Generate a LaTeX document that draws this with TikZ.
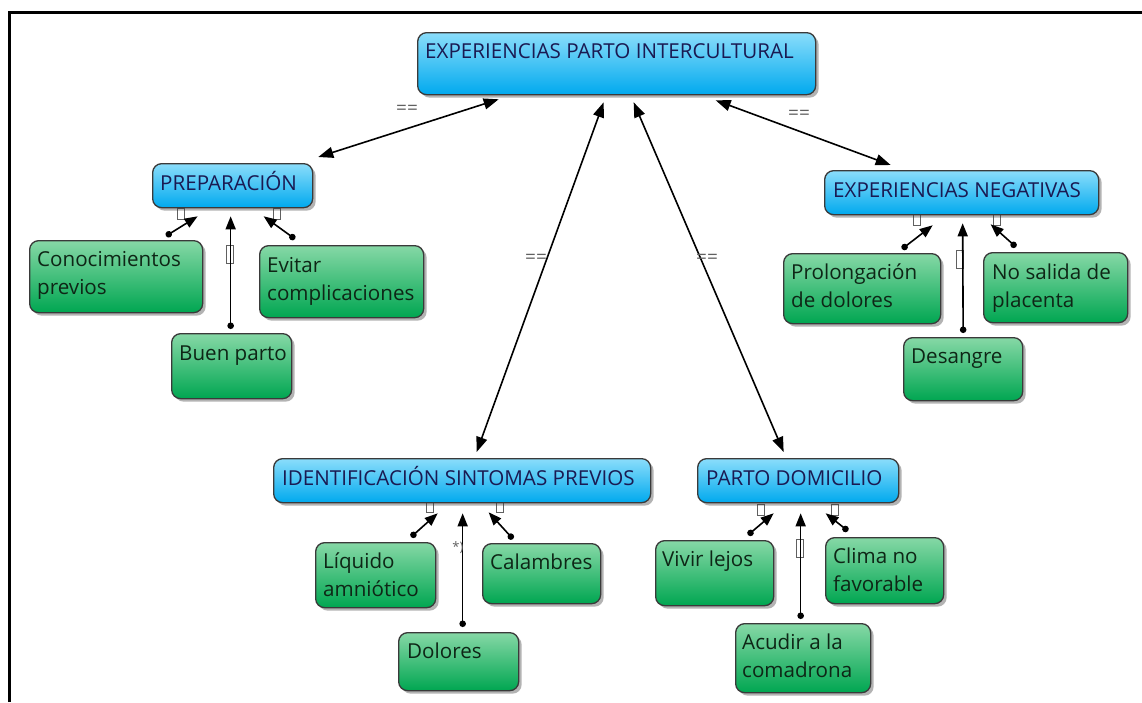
\documentclass[tikz,border=0pt]{standalone}
\usepackage{fontspec}
\setmainfont{Open Sans}
\usetikzlibrary{arrows.meta,shadows,calc}

\definecolor{bluetop}{HTML}{8ADDFB}
\definecolor{bluebot}{HTML}{00A9EE}
\definecolor{greentop}{HTML}{86D8A6}
\definecolor{greenbot}{HTML}{00A651}
\definecolor{boxline}{HTML}{3A3A3A}
\definecolor{bluetext}{HTML}{1A1A52}
\definecolor{greentext}{HTML}{0E2616}
\definecolor{labelgray}{HTML}{606060}

\tikzset{
  conceptbox/.style={draw=boxline, line width=1.3pt, rounded corners=9pt,
    anchor=north west, inner sep=0pt,
    drop shadow={shadow xshift=3pt, shadow yshift=-3pt, opacity=0.4, fill=black!75}},
  topicbox/.style={conceptbox, top color=bluetop, bottom color=bluebot},
  leafbox/.style={conceptbox, top color=greentop, bottom color=greenbot},
  boxtext/.style={anchor=base west, inner sep=0pt,
    font=\fontsize{20.6pt}{28pt}\selectfont},
  topictext/.style={boxtext, text=bluetext},
  leaftext/.style={boxtext, text=greentext},
  mainlink/.style={line width=1.6pt, {Triangle[length=15pt,width=11pt]}-{Triangle[length=15pt,width=11pt]}},
  sublink/.style={line width=1.6pt, {Circle[length=6.5pt]}-{Triangle[length=13pt,width=10pt]}},
  eqlabel/.style={text=labelgray, font=\fontsize{19pt}{19pt}\selectfont, inner sep=0pt},
  glyphbox/.style={draw=labelgray, fill=white, line width=0.7pt, inner sep=0pt,
    minimum width=7pt, minimum height=11pt},
  tallglyph/.style={glyphbox, minimum height=18pt}
}

\newcommand\lines[1]{\begin{tabular}[t]{@{}l@{}}#1\end{tabular}}

\begin{document}
\begin{tikzpicture}[x=1pt, y=1pt]
\useasboundingbox (0,0) rectangle (1142,-702);

% frame
\draw[line width=2.6pt] (9.5,-702) -- (9.5,-12.5) -- (1142,-12.5) coordinate (frameend);

% connector labels that sit under the boxes
\node[glyphbox] (g-prep-l) at (181,-214) {};
\node[glyphbox] (g-prep-r) at (277,-214) {};
\node[tallglyph] (g-prep-m) at (230,-254) {};
\node[glyphbox] (g-neg-l) at (917,-220) {};
\node[glyphbox] (g-neg-r) at (997,-220) {};
\node[tallglyph] (g-neg-m) at (960,-259) {};
\node[glyphbox] (g-id-l) at (430,-507) {};
\node[glyphbox] (g-id-r) at (500,-507) {};
\node[glyphbox] (g-pd-l) at (761,-510) {};
\node[glyphbox] (g-pd-r) at (835,-510) {};
\node[tallglyph] (g-pd-m) at (800,-548) {};

% concept boxes
\node[topicbox, minimum width=398pt, minimum height=62pt] (main) at (417,-32) {};
\node[topicbox, minimum width=160pt, minimum height=44pt] (prep) at (152,-163) {};
\node[topicbox, minimum width=274pt, minimum height=44pt] (neg) at (824,-170) {};
\node[topicbox, minimum width=377pt, minimum height=44pt] (ident) at (273,-458) {};
\node[topicbox, minimum width=201pt, minimum height=44pt] (parto) at (697,-458) {};

\node[leafbox, minimum width=173pt, minimum height=72pt] (conoc) at (29,-240) {};
\node[leafbox, minimum width=164pt, minimum height=72pt] (evitar) at (259,-245) {};
\node[leafbox, minimum width=120pt, minimum height=65pt] (buen) at (171,-333) {};
\node[leafbox, minimum width=157pt, minimum height=70pt] (prolong) at (783,-253) {};
\node[leafbox, minimum width=144pt, minimum height=70pt] (placenta) at (983,-252) {};
\node[leafbox, minimum width=119pt, minimum height=63pt] (desangre) at (903,-337) {};
\node[leafbox, minimum width=120pt, minimum height=65pt] (liquido) at (315,-542) {};
\node[leafbox, minimum width=118pt, minimum height=60pt] (calambres) at (482,-543) {};
\node[leafbox, minimum width=120pt, minimum height=58pt] (dolores) at (398,-632) {};
\node[leafbox, minimum width=118pt, minimum height=65pt] (vivir) at (655,-540) {};
\node[leafbox, minimum width=118pt, minimum height=66pt] (clima) at (825,-537) {};
\node[leafbox, minimum width=135pt, minimum height=69pt] (acudir) at (735,-623) {};

% box texts
\node[topictext] (main-t) at ([xshift=8pt,yshift=-26pt]main.north west) {EXPERIENCIAS PARTO INTERCULTURAL};
\node[topictext] (prep-t) at ([xshift=8pt,yshift=-27pt]prep.north west) {PREPARACIÓN};
\node[topictext] (neg-t) at ([xshift=9pt,yshift=-27pt]neg.north west) {EXPERIENCIAS NEGATIVAS};
\node[topictext] (ident-t) at ([xshift=9pt,yshift=-27pt]ident.north west) {IDENTIFICACIÓN SINTOMAS PREVIOS};
\node[topictext] (parto-t) at ([xshift=9pt,yshift=-27pt]parto.north west) {PARTO DOMICILIO};

\node[leaftext] (conoc-t) at ([xshift=8pt,yshift=-26pt]conoc.north west) {\lines{Conocimientos\\previos}};
\node[leaftext] (evitar-t) at ([xshift=8pt,yshift=-27pt]evitar.north west) {\lines{Evitar\\complicaciones}};
\node[leaftext] (buen-t) at ([xshift=8pt,yshift=-27pt]buen.north west) {Buen parto};
\node[leaftext] (prolong-t) at ([xshift=8pt,yshift=-26pt]prolong.north west) {\lines{Prolongación\\de dolores}};
\node[leaftext] (placenta-t) at ([xshift=9pt,yshift=-27pt]placenta.north west) {\lines{No salida de\\placenta}};
\node[leaftext] (desangre-t) at ([xshift=8pt,yshift=-26pt]desangre.north west) {Desangre};
\node[leaftext] (liquido-t) at ([xshift=8pt,yshift=-26pt]liquido.north west) {\lines{Líquido\\amniótico}};
\node[leaftext] (calambres-t) at ([xshift=8pt,yshift=-26pt]calambres.north west) {Calambres};
\node[leaftext] (dolores-t) at ([xshift=9pt,yshift=-26pt]dolores.north west) {Dolores};
\node[leaftext] (vivir-t) at ([xshift=7pt,yshift=-26pt]vivir.north west) {Vivir lejos};
\node[leaftext] (clima-t) at ([xshift=8pt,yshift=-26pt]clima.north west) {\lines{Clima no\\favorable}};
\node[leaftext] (acudir-t) at ([xshift=7pt,yshift=-26pt]acudir.north west) {\lines{Acudir a la\\comadrona}};

% links from the central concept
\draw[mainlink] ([xshift=-118pt,yshift=-4pt]main.south) -- ([xshift=5pt,yshift=6pt]prep.north east);
\draw[mainlink] ([xshift=-13pt,yshift=-7pt]main.south) -- ([xshift=14.5pt,yshift=6pt]ident.north);
\draw[mainlink] ([xshift=17pt,yshift=-7pt]main.south) -- ([xshift=-14.5pt,yshift=6pt]parto.north);
\draw[mainlink] ([xshift=99pt,yshift=-5pt]main.south) -- ([xshift=-71pt,yshift=5pt]neg.north);

\node[eqlabel] (eq-prep) at (407,-110) {==};
\node[eqlabel] (eq-ident) at (536,-259) {==};
\node[eqlabel] (eq-parto) at (707,-259) {==};
\node[eqlabel] (eq-neg) at (799,-115) {==};

% links from each sub-concept
\draw[sublink] ([xshift=137pt,yshift=4pt]conoc.north west) -- ([xshift=-35pt,yshift=-8pt]prep.south);
\draw[sublink] ([xshift=-1pt,yshift=4pt]buen.north) -- ([xshift=-2pt,yshift=-8pt]prep.south);
\draw[sublink] ([xshift=36pt,yshift=6pt]evitar.north west) -- ([xshift=31pt,yshift=-8pt]prep.south);

\draw[sublink] ([xshift=119pt,yshift=4pt]prolong.north west) -- ([xshift=-29pt,yshift=-10pt]neg.south);
\draw[sublink] ([xshift=0pt,yshift=4pt]desangre.north) -- ([xshift=1pt,yshift=-8pt]neg.south);
\draw[sublink] ([xshift=33pt,yshift=5pt]placenta.north west) -- ([xshift=29pt,yshift=-9pt]neg.south);

\draw[sublink] ([xshift=96pt,yshift=5pt]liquido.north west) -- ([xshift=-24.5pt,yshift=-10pt]ident.south);
\draw[sublink] ([xshift=4pt,yshift=5pt]dolores.north) -- ([xshift=0.5pt,yshift=-10pt]ident.south);
\draw[sublink] ([xshift=31pt,yshift=4pt]calambres.north west) -- ([xshift=26.5pt,yshift=-9pt]ident.south);

\draw[sublink] ([xshift=93pt,yshift=5pt]vivir.north west) -- ([xshift=-24.5pt,yshift=-10pt]parto.south);
\draw[sublink] ([xshift=-2.5pt,yshift=4pt]acudir.north) -- ([xshift=2.5pt,yshift=-10pt]parto.south);
\draw[sublink] ([xshift=23pt,yshift=6pt]clima.north west) -- ([xshift=27.5pt,yshift=-10pt]parto.south);

\node[eqlabel, font=\fontsize{13pt}{13pt}\selectfont] (star-dolores) at (458,-548) {*)};
\end{tikzpicture}
\end{document}
